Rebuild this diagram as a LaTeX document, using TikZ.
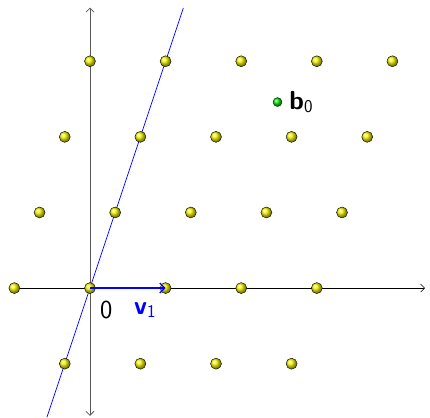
\documentclass[tikz,border=0pt]{standalone}
\usetikzlibrary{arrows.meta}
\begin{document}
\begin{tikzpicture}[x=75.6pt,y=75.6pt,
  lpt/.style={circle,inner sep=0pt,minimum size=11pt,draw=black,line width=0.4pt,shade,ball color=yellow!90!olive},
  gpt/.style={circle,inner sep=0pt,minimum size=9pt,draw=black,line width=0.3pt,shade,ball color=green!90!black},
  lbl/.style={font=\sffamily\fontsize{26}{30}\selectfont,inner sep=0pt,anchor=base west}]
\newcommand{\subsz}{\fontsize{18}{20}\selectfont}
\useasboundingbox (-1.190,-1.706) rectangle (4.497,3.810);
% axes
\coordinate (xl) at (-1,0);
\coordinate (xr) at (4.43,0);
\coordinate (yb) at (0,-1.69);
\coordinate (yt) at (0,3.71);
\draw[gray!70!black,line width=0.8pt,{Straight Barb[length=4pt]}-{Straight Barb[length=4pt]}] (yb) -- (yt);
\draw[black,line width=0.5pt,-{Straight Barb[length=4pt]}] (xl) -- (xr);
% line
\coordinate (la) at (-0.57,-1.71);
\coordinate (lb) at (1.235,3.705);
\draw[blue,line width=0.7pt] (la) -- (lb);
% lattice points
\foreach \j/\kmin/\kmax in {-1/0/3, 0/-1/3, 1/-1/3, 2/-1/3, 3/-1/3}{
  \foreach \k in {\kmin,...,\kmax}{
    \pgfmathsetmacro{\xx}{\k+\j/3}
    \node[lpt] (p\j\k) at (\xx,\j) {};
  }
}
% vector
\draw[blue,line width=1.2pt,-{Straight Barb[length=5pt]}] (p00.center) -- (p01.center);
\node[lbl] (zero) at (0.13,-0.397) {0};
\node[lbl,text=blue] (v1) at (0.58,-0.345) {\textbf{v}\textsubscript{\subsz 1}};
% b0
\node[gpt] (b0) at (2.48,2.46) {};
\node[lbl] (b0l) at (2.635,2.368) {\textbf{b}\textsubscript{\subsz 0}};
\end{tikzpicture}
\end{document}
